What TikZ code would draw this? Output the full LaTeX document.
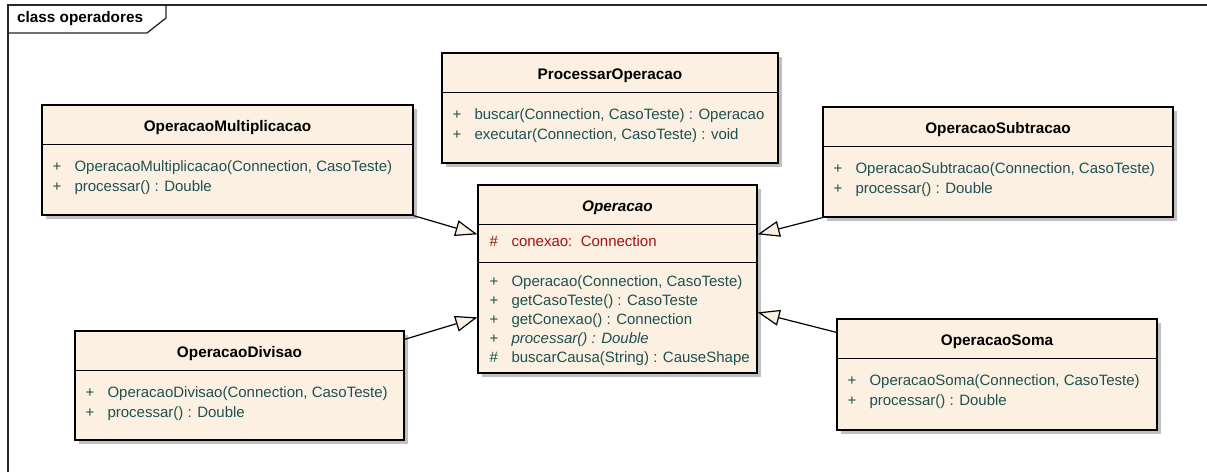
\documentclass[tikz,border=0pt]{standalone}
\usepackage{fontspec}
\setmainfont{Liberation Sans}
\usetikzlibrary{arrows.meta,calc,shadows}
\definecolor{cream}{RGB}{251,240,225}
\definecolor{shade}{RGB}{192,192,192}
\definecolor{memb}{RGB}{30,82,82}
\definecolor{attr}{RGB}{160,20,20}
\tikzset{
  classbox/.style={draw=black, line width=1.3pt, fill=cream, rectangle, inner sep=0pt,
    drop shadow={shadow xshift=4pt, shadow yshift=-4pt, fill=shade, opacity=1}},
  sepline/.style={draw=black, line width=1.1pt},
  ttl/.style={font=\fontsize{15.3}{18}\selectfont\bfseries, inner sep=0pt},
  mem/.style={font=\fontsize{15}{18}\selectfont, text=memb, anchor=west, inner sep=0pt},
  att/.style={font=\fontsize{15}{18}\selectfont, text=attr, anchor=west, inner sep=0pt},
  gen/.style={draw=black, line width=1.2pt, -{Triangle[length=22pt,width=16pt,fill=cream,line width=1.2pt]}},
  framel/.style={draw=black!85, line width=1.3pt}
}
\newcommand{\mrow}[2]{\makebox[22pt][l]{#1}#2}
\begin{document}
\begin{tikzpicture}[x=1pt,y=-1pt]
\useasboundingbox (0,0) rectangle (1207,472);
% frame
\coordinate (fTL) at (8,5);
\coordinate (fTR) at (1207,5);
\coordinate (fBL) at (8,472);
\draw[framel] (fBL) -- (fTL) -- (fTR);
\draw[framel] (166,5) -- (166,18) -- (147,33) -- (8,33);
\node[font=\fontsize{15.3}{18}\selectfont\bfseries, anchor=west, inner sep=0pt] (flabel) at (17,19) {class operadores};

% classes
\node[classbox, minimum width=336pt, minimum height=110pt] (proc) at (610,108) {};
\node[classbox, minimum width=371pt, minimum height=110pt] (mult) at (227.5,160) {};
\node[classbox, minimum width=279pt, minimum height=188pt] (oper) at (617.5,279) {};
\node[classbox, minimum width=329pt, minimum height=109pt] (div) at (239.5,385.5) {};
\node[classbox, minimum width=350pt, minimum height=110pt] (sub) at (998,162) {};
\node[classbox, minimum width=320pt, minimum height=111pt] (soma) at (997,374.5) {};

% header lines
\foreach \c in {proc,mult,oper,div,sub,soma}{
  \draw[sepline] ($(\c.north west)+(0,40)$) -- ($(\c.north east)+(0,40)$);
}
\draw[sepline] ($(oper.north west)+(0,78)$) -- ($(oper.north east)+(0,78)$);

% titles
\node[ttl] (procT) at ($(proc.north)+(0,23)$) {ProcessarOperacao};
\node[ttl] (multT) at ($(mult.north)+(0,23)$) {OperacaoMultiplicacao};
\node[ttl] (operT) at ($(oper.north)+(0,23)$) {\itshape Operacao};
\node[ttl] (divT) at ($(div.north)+(0,23)$) {OperacaoDivisao};
\node[ttl] (subT) at ($(sub.north)+(0,23)$) {OperacaoSubtracao};
\node[ttl] (somaT) at ($(soma.north)+(0,23)$) {OperacaoSoma};

% members
\node[mem] (proc1) at ($(proc.north west)+(11,63)$) {\mrow{+}{buscar(Connection, CasoTeste) : Operacao}};
\node[mem] (proc2) at ($(proc.north west)+(11,83)$) {\mrow{+}{executar(Connection, CasoTeste) : void}};

\node[mem] (mult1) at ($(mult.north west)+(11,63)$) {\mrow{+}{OperacaoMultiplicacao(Connection, CasoTeste)}};
\node[mem] (mult2) at ($(mult.north west)+(11,83)$) {\mrow{+}{processar() : Double}};

\node[att] (oper0) at ($(oper.north west)+(12,57)$) {\mrow{\#}{conexao:\ \ Connection}};
\node[mem] (oper1) at ($(oper.north west)+(12,98)$) {\mrow{+}{Operacao(Connection, CasoTeste)}};
\node[mem] (oper2) at ($(oper.north west)+(12,117)$) {\mrow{+}{getCasoTeste() : CasoTeste}};
\node[mem] (oper3) at ($(oper.north west)+(12,136)$) {\mrow{+}{getConexao() : Connection}};
\node[mem] (oper4) at ($(oper.north west)+(12,155)$) {\mrow{+}{\itshape processar() : Double}};
\node[mem] (oper5) at ($(oper.north west)+(12,174)$) {\mrow{\#}{buscarCausa(String) : CauseShape}};

\node[mem] (div1) at ($(div.north west)+(11,63)$) {\mrow{+}{OperacaoDivisao(Connection, CasoTeste)}};
\node[mem] (div2) at ($(div.north west)+(11,83)$) {\mrow{+}{processar() : Double}};

\node[mem] (sub1) at ($(sub.north west)+(11,63)$) {\mrow{+}{OperacaoSubtracao(Connection, CasoTeste)}};
\node[mem] (sub2) at ($(sub.north west)+(11,83)$) {\mrow{+}{processar() : Double}};

\node[mem] (soma1) at ($(soma.north west)+(11,63)$) {\mrow{+}{OperacaoSoma(Connection, CasoTeste)}};
\node[mem] (soma2) at ($(soma.north west)+(11,83)$) {\mrow{+}{processar() : Double}};

% generalisations
\coordinate (tipM) at ($(oper.north west)+(0,50)$);
\coordinate (tipD) at ($(oper.north west)+(0,133)$);
\coordinate (tipS) at ($(oper.north east)+(0,50)$);
\coordinate (tipO) at ($(oper.north east)+(0,128)$);
\coordinate (fromD) at ($(div.north east)+(0,9)$);
\coordinate (fromO) at ($(soma.north west)+(0,14)$);
\draw[gen] (mult.south east) -- (tipM);
\draw[gen] (fromD) -- (tipD);
\draw[gen] (sub.south west) -- (tipS);
\draw[gen] (fromO) -- (tipO);
\end{tikzpicture}
\end{document}
